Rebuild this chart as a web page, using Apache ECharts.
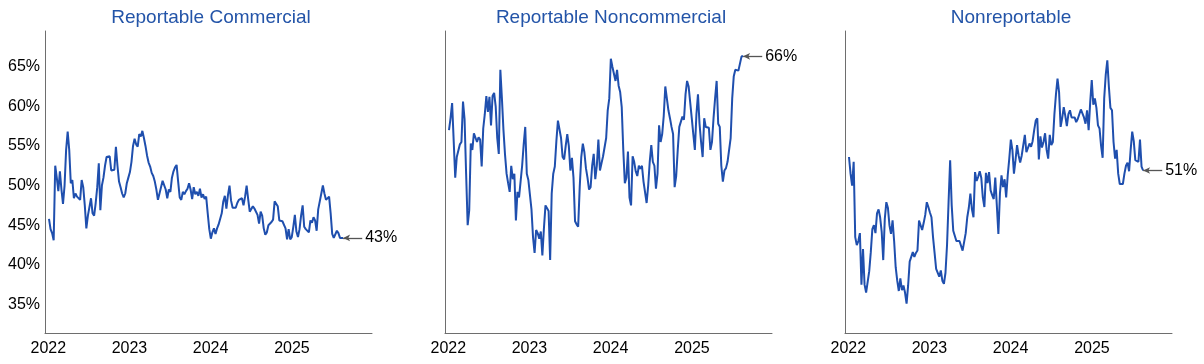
<!DOCTYPE html>
<html>
<head>
<meta charset="utf-8">
<script src="https://cdn.jsdelivr.net/npm/echarts@6/dist/echarts.min.js"></script>
<style>
  html, body { margin: 0; padding: 0; background: #ffffff; }
  #chart { width: 1204px; height: 364px; }
</style>
</head>
<body>
<div id="chart"></div>
<script>
// ---------- data ----------
const panelTitles = ['Reportable Commercial', 'Reportable Noncommercial', 'Nonreportable'];
const firstWeek = '2022-01-04';   // weekly observations (Tuesdays)
const yearTicks = [2022, 2023, 2024, 2025];
const yTicks = [35, 40, 45, 50, 55, 60, 65];

const commercial = [
  45.8, 44.5, 44.0, 43.1, 52.5, 51.0, 49.3, 51.8, 49.5, 47.7, 50.0, 54.5, 56.8, 54.5, 50.3, 50.7, 48.4, 49.0, 48.6, 48.4,
  48.2, 50.7, 49.8, 47.5, 44.6, 46.2, 46.0, 48.4, 46.5, 46.2, 47.8, 49.8, 52.8, 46.9, 50.0, 51.0, 52.5, 53.6, 53.8, 53.7,
  51.9, 51.8, 52.0, 54.9, 52.5, 50.5, 49.8, 49.0, 48.5, 49.0, 50.3, 51.0,
  51.7, 53.0, 55.0, 55.9, 55.2, 54.9, 56.5, 56.2, 56.9, 56.0, 55.0, 53.8, 52.9, 52.4, 51.6, 51.2, 50.5, 49.5, 48.2, 49.0,
  49.1, 50.6, 50.4, 49.5, 48.4, 49.5, 49.2, 51.0, 51.8, 52.3, 52.6, 50.5, 48.5, 48.2, 49.2, 48.9, 49.3, 49.6, 50.3, 49.5,
  48.3, 49.8, 48.9, 49.2, 48.7, 49.6, 48.5, 48.9, 48.3, 48.6, 46.5, 44.5,
  43.3, 44.1, 44.6, 43.9, 44.6, 45.1, 45.3, 46.5, 48.0, 48.7, 47.1, 48.8, 50.0, 48.1, 47.2, 47.4, 47.2, 47.8, 48.2, 48.1,
  48.4, 47.5, 48.6, 50.0, 48.3, 46.7, 46.8, 47.4, 47.1, 47.0, 46.3, 45.2, 46.7, 46.2, 44.6, 43.8, 44.1, 45.0, 45.2, 45.4,
  45.7, 48.0, 47.8, 47.4, 45.6, 45.6, 45.5, 45.5, 44.6, 43.2, 44.5, 43.2,
  43.5, 44.8, 46.3, 44.2, 43.5, 44.5, 46.2, 47.5, 44.8, 44.5, 44.6, 44.1, 45.6, 45.3, 46.0, 45.6, 44.3, 47.0, 47.2, 49.0,
  50.0, 49.0, 48.2, 48.0, 48.6, 46.5, 43.9, 43.4, 43.6, 44.3, 44.0, 43.4, 43.5, 43.4
];

const noncommercial = [
  57.0, 58.5, 60.4, 60.5, 51.0, 53.6, 53.8, 55.2, 55.5, 60.6, 58.4, 51.5, 45.0, 46.9, 55.3, 54.5, 56.6, 56.8, 55.5, 56.1,
  55.8, 52.4, 57.2, 59.0, 61.3, 59.3, 61.2, 57.6, 61.3, 61.7, 60.0, 56.0, 54.0, 64.6, 61.0, 57.0, 53.9, 51.5, 50.3, 49.2,
  52.5, 50.8, 51.5, 45.6, 49.2, 48.5, 50.5, 52.5, 55.2, 57.4, 51.5, 50.7,
  50.6, 47.0, 43.5, 41.5, 44.4, 44.0, 43.3, 44.2, 41.2, 44.6, 47.5, 47.7, 46.8, 40.6, 49.0, 51.5, 52.4, 55.6, 58.2, 58.4,
  56.0, 53.6, 53.3, 55.0, 56.5, 55.0, 51.9, 53.5, 51.0, 45.5, 45.1, 44.8, 49.8, 53.6, 55.3, 54.2, 52.2, 51.0, 49.5, 49.8,
  52.5, 54.0, 50.8, 52.5, 55.8, 51.9, 52.8, 53.7, 53.8, 56.0, 59.5, 61.0,
  66.0, 65.0, 65.0, 63.2, 64.6, 62.6, 61.8, 59.9, 54.5, 50.3, 51.0, 54.3, 48.5, 47.5, 53.7, 53.0, 51.8, 51.2, 52.5, 52.1,
  52.5, 50.5, 50.4, 47.8, 50.0, 53.0, 55.1, 53.0, 52.5, 49.6, 51.5, 57.6, 55.5, 56.5, 58.8, 62.5, 62.6, 59.5, 58.5, 57.4,
  56.5, 49.8, 51.2, 54.5, 57.4, 57.4, 58.7, 58.3, 61.5, 63.2, 62.5, 60.5,
  58.5, 56.5, 54.5, 59.0, 61.5, 57.8, 55.5, 53.6, 58.5, 57.4, 57.2, 57.3, 54.5, 55.5, 58.5, 61.0, 63.2, 57.8, 57.4, 52.5,
  50.5, 51.9, 52.2, 53.0, 52.8, 56.0, 61.0, 63.8, 64.6, 64.7, 64.5, 64.3, 66.3, 66.3
];

const nonreportable = [
  53.6, 51.5, 50.0, 53.0, 43.5, 42.5, 43.0, 44.0, 37.5, 42.0, 37.5, 36.5, 36.5, 39.2, 41.6, 44.5, 45.0, 44.0, 46.5, 47.0,
  46.0, 44.2, 40.6, 45.8, 47.9, 47.2, 45.0, 43.9, 45.6, 43.0, 39.7, 38.0, 36.7, 38.3, 36.8, 37.4, 36.5, 35.1, 37.4, 40.4,
  40.3, 41.6, 41.0, 41.5, 41.8, 45.6, 45.0, 44.4, 45.3, 46.3, 47.9, 47.3,
  46.6, 46.0, 43.5, 41.5, 39.5, 39.4, 38.5, 39.3, 38.0, 37.6, 39.0, 42.5, 48.0, 53.2, 47.5, 44.3, 44.2, 43.0, 42.8, 43.0,
  43.0, 41.8, 42.0, 44.0, 46.0, 47.2, 49.0, 47.0, 46.0, 51.7, 50.6, 51.1, 51.8, 51.0, 48.5, 47.3, 51.6, 50.3, 51.7, 49.4,
  48.8, 48.3, 51.0, 47.5, 43.9, 49.0, 51.3, 49.8, 50.8, 48.5, 51.3, 53.4,
  55.8, 54.5, 51.5, 53.2, 55.1, 53.8, 52.9, 53.8, 53.6, 56.4, 54.2, 54.0, 55.3, 54.9, 55.6, 57.0, 58.2, 58.5, 53.3, 56.2,
  54.8, 55.5, 56.6, 54.5, 53.4, 56.4, 55.1, 55.5, 59.0, 61.5, 63.5, 61.8, 57.4, 58.5, 59.9, 58.8, 57.5, 59.0, 59.5, 58.6,
  58.6, 58.6, 58.0, 58.4, 59.0, 59.6, 59.4, 58.6, 57.8, 59.5, 57.0, 60.5,
  63.3, 60.2, 61.0, 59.8, 57.6, 57.2, 55.0, 53.5, 61.0, 64.0, 65.8, 62.5, 59.8, 59.5, 55.5, 53.4, 54.5, 51.5, 50.2, 50.1,
  50.2, 51.5, 52.5, 52.9, 51.8, 54.5, 56.8, 55.6, 53.2, 53.2, 53.0, 55.8, 52.4, 51.9
];

const seriesData = [commercial, noncommercial, nonreportable];

// ---------- layout / style ----------
const LINE_COLOR = '#1f4fae';
const TITLE_COLOR = '#2354a8';
const AXIS_COLOR = '#6e6e6e';
const FONT = '"Liberation Sans", Arial, Helvetica, sans-serif';
const PANEL_X = [0, 400, 800];
const GRID_LEFT = 45, GRID_TOP = 31, GRID_W = 327, GRID_H = 302;
const X_MIN = Date.UTC(2021, 11, 17);
const X_MAX = Date.UTC(2025, 11, 27);
const Y_MIN = 31.4, Y_MAX = 69.5;
const ARROW_DAYS = 86;
const DAY = 86400000;

const startMs = Date.parse(firstWeek + 'T00:00:00Z');
function weeklyPairs(vals) {
  return vals.map((v, i) => [startMs + i * 7 * DAY, v]);
}
const yearMs = yearTicks.map(y => Date.UTC(y, 0, 1));

const grids = [], xAxes = [], yAxes = [], series = [], graphics = [];
PANEL_X.forEach((px, k) => {
  grids.push({ left: px + GRID_LEFT, top: GRID_TOP, width: GRID_W, height: GRID_H, containLabel: false });
  xAxes.push({
    type: 'value', gridIndex: k, min: X_MIN, max: X_MAX,
    axisLine: { show: true, lineStyle: { color: AXIS_COLOR, width: 1 } },
    axisTick: { show: false },
    splitLine: { show: false },
    axisLabel: {
      customValues: yearMs,
      formatter: v => String(new Date(v).getUTCFullYear()),
      color: '#000', fontSize: 16, fontFamily: FONT, margin: 8
    }
  });
  yAxes.push({
    type: 'value', gridIndex: k, min: Y_MIN, max: Y_MAX,
    axisLine: { show: true, lineStyle: { color: AXIS_COLOR, width: 1 } },
    axisTick: { show: false },
    splitLine: { show: false },
    axisLabel: {
      show: k === 0,
      customValues: yTicks,
      formatter: v => v + '%',
      color: '#000', fontSize: 16, fontFamily: FONT, margin: 5
    }
  });
  const pairs = weeklyPairs(seriesData[k]);
  const last = pairs[pairs.length - 1];
  series.push({
    type: 'line', xAxisIndex: k, yAxisIndex: k,
    data: pairs, showSymbol: false, symbol: 'none',
    lineStyle: { color: LINE_COLOR, width: 2 },
    itemStyle: { color: LINE_COLOR },
    clip: false,
    markLine: {
      silent: true,
      symbol: ['none', 'arrow'],
      symbolSize: [5, 7],
      lineStyle: { color: '#555555', width: 1.3, type: 'solid' },
      label: {
        show: true, position: 'start', distance: 3,
        formatter: () => Math.floor(last[1]) + '%',
        color: '#000', fontSize: 16, fontFamily: FONT
      },
      data: [[
        { coord: [last[0] + ARROW_DAYS * DAY, last[1]] },
        { coord: [last[0], last[1]] }
      ]]
    }
  });
  graphics.push({
    type: 'text', x: px + 211, y: 18,
    style: {
      text: panelTitles[k], fill: TITLE_COLOR,
      font: '19px ' + FONT, textAlign: 'center', textVerticalAlign: 'middle'
    }
  });
});

const chart = echarts.init(document.getElementById('chart'), null, { renderer: 'canvas' });
chart.setOption({
  animation: false,
  backgroundColor: '#ffffff',
  grid: grids, xAxis: xAxes, yAxis: yAxes, series: series,
  graphic: graphics
});
</script>
</body>
</html>
